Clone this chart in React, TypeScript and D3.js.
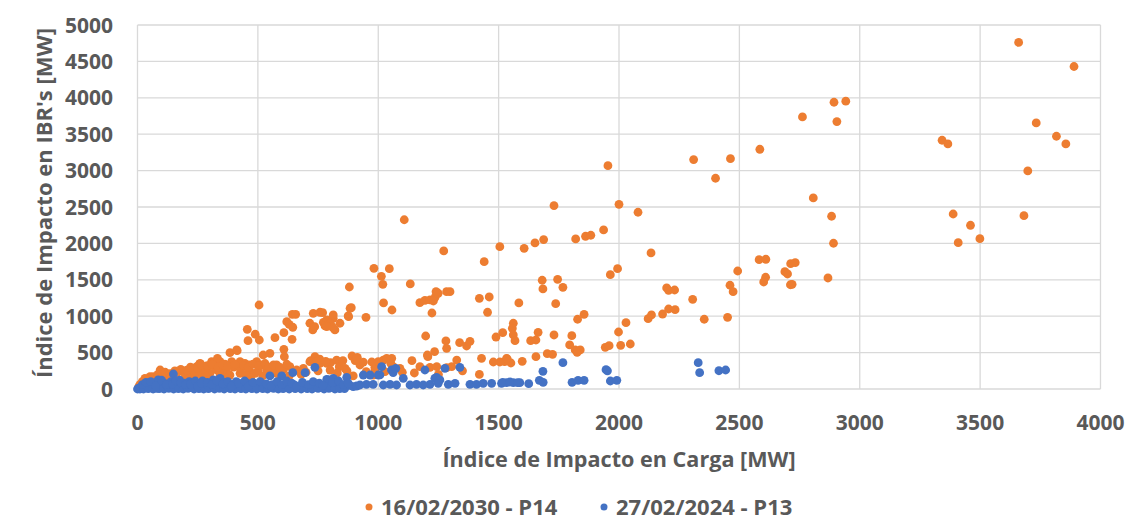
import React, { useRef, useEffect } from "react";
import * as d3 from "d3";

const xTicks = [0, 500, 1000, 1500, 2000, 2500, 3000, 3500, 4000];
const yTicks = [0, 500, 1000, 1500, 2000, 2500, 3000, 3500, 4000, 4500, 5000];

const seriesNames = ["16/02/2030 - P14", "27/02/2024 - P13"];

// [carga MW, IBR MW]
const p14 = [
  [3660, 4760], [3890, 4430], [3733, 3655], [3817, 3472], [3856, 3366], [3342, 3417], [3366, 3366],
  [3698, 2995], [3388, 2404], [3682, 2381], [3460, 2249], [3499, 2065], [3409, 2010],
  [2893, 3939], [2942, 3953], [2762, 3737], [2905, 3673], [2585, 3293], [2463, 3164], [2401, 2895],
  [2807, 2624], [2883, 2373], [2891, 2002], [2582, 1777], [2610, 1782], [2493, 1621], [2713, 1722],
  [2732, 1735], [2689, 1612], [2700, 1580], [2609, 1535], [2601, 1470], [2719, 1438], [2712, 1432],
  [2461, 1425], [2474, 1337], [2868, 1525], [2354, 958], [2451, 985],
  [1954, 3068], [2310, 3151], [1440, 1749], [1420, 1246], [1461, 1264], [1454, 1054], [1298, 1337],
  [1338, 636], [1367, 591], [1381, 655], [1489, 714], [1517, 774],
  [1730, 2519], [2000, 2537], [2079, 2428], [1505, 1955], [1606, 1933], [1651, 2006], [1687, 2052],
  [1820, 2061], [1861, 2098], [1883, 2112], [1936, 2185], [2133, 1869], [1964, 1571], [1994, 1653],
  [1681, 1494], [1745, 1507], [1684, 1374], [1767, 1397], [1584, 1182], [1737, 1172], [2198, 1388],
  [2206, 1356], [2231, 1360], [2306, 1232], [2121, 966], [2135, 1017], [2181, 1030], [2206, 1099],
  [2233, 1090], [1828, 958], [1855, 1026], [1561, 903], [1557, 834], [1561, 742], [1568, 664],
  [1664, 779], [1633, 664], [1655, 673], [1730, 742], [1804, 732], [1795, 605], [1818, 536],
  [1839, 536], [1826, 504], [1943, 573], [1959, 595], [1998, 783], [2029, 911], [2007, 600],
  [2047, 618], [1525, 375], [1536, 412], [1551, 357], [1598, 380], [1655, 444], [1702, 485], [1724, 476],
  [1108, 2325], [1272, 1896], [982, 1658], [1046, 1653], [1013, 1548], [1019, 1438], [880, 1401],
  [1133, 1443], [1022, 1182], [1057, 1085], [1173, 1186], [1194, 1218], [1215, 1223], [1236, 1260],
  [1249, 1315], [1240, 1337], [1284, 1337], [1229, 1209], [1223, 1044], [758, 1054], [888, 1117],
  [877, 993], [949, 985], [772, 916], [786, 948], [813, 971], [800, 903], [820, 811], [841, 903],
  [779, 866], [811, 848], [1197, 728], [1204, 467], [1206, 444], [1234, 513], [1281, 660], [1284, 559],
  [1429, 422], [1478, 371], [1505, 371], [1533, 422], [1140, 389], [1173, 306], [1215, 298],
  [1243, 306], [1284, 293], [1305, 306], [1326, 398],
  [505, 1154], [643, 1026], [657, 1026], [620, 925], [630, 889], [645, 848], [608, 774], [642, 683],
  [769, 1048], [716, 903], [728, 811], [786, 856], [456, 820], [489, 752], [506, 673], [459, 664],
  [571, 705], [608, 545], [610, 444], [522, 467], [550, 490], [384, 499], [414, 526], [875, 1003],
  [883, 1109], [730, 1040], [813, 1017], [736, 856],
  [737, 444], [758, 353], [786, 353], [802, 361], [827, 398], [838, 306], [862, 284], [913, 435],
  [924, 330], [973, 371], [986, 298], [1021, 398], [1056, 422], [1062, 306], [1090, 284], [979, 192],
  [896, 179], [720, 390], [757, 410], [782, 380], [853, 390], [891, 453], [904, 390], [938, 370],
  [1035, 422], [1000, 375], [1052, 353], [910, 422], [1028, 238], [986, 261],
  [31, 146], [52, 169], [94, 261], [121, 192], [163, 215], [190, 238], [225, 238], [246, 307],
  [260, 352], [287, 284], [308, 375], [332, 421], [343, 375], [363, 343], [412, 536], [391, 375],
  [426, 375], [446, 352], [467, 330], [495, 375], [516, 330], [536, 261], [467, 238], [426, 215],
  [370, 238], [329, 261], [301, 215], [280, 192], [578, 330], [606, 261], [633, 307], [661, 261],
  [689, 284], [716, 375], [744, 375], [578, 215], [488, 215], [384, 192], [343, 192], [257, 343],
  [284, 293], [232, 261], [260, 247], [191, 238], [100, 180], [149, 180],
  [10, 60], [20, 100], [40, 80], [60, 120], [75, 150], [110, 140], [130, 100], [140, 160], [170, 130],
  [200, 180], [215, 150], [240, 200], [270, 160], [300, 120], [320, 300], [350, 290], [360, 160],
  [400, 300], [430, 280], [450, 200], [470, 150], [500, 250], [520, 180], [560, 240], [590, 200],
  [630, 180], [680, 200], [700, 230], [750, 250], [800, 260], [830, 220], [870, 250], [950, 240],
  [1100, 230], [1150, 220], [1250, 200], [1350, 250], [1420, 200],
  [5, 30], [15, 50], [30, 110], [45, 130], [65, 170], [85, 200], [95, 140], [115, 230], [135, 210],
  [155, 250], [180, 270], [205, 260], [220, 300], [250, 280], [265, 330], [290, 320], [310, 340],
  [335, 300], [355, 330], [375, 310], [405, 340], [440, 320], [460, 300], [480, 340], [505, 320],
  [530, 350], [545, 300], [565, 330], [590, 300], [620, 340],
];

const p13 = [
  [0, 0], [5, 10], [12, 20], [20, 5], [30, 40], [40, 15], [50, 60], [60, 25], [70, 80], [80, 10],
  [86, 124], [95, 50], [105, 90], [115, 30], [125, 70], [140, 100], [149, 206], [155, 40], [165, 60],
  [175, 120], [185, 20], [195, 80], [205, 45], [215, 100], [230, 30], [245, 70], [260, 15], [270, 110],
  [285, 50], [300, 20], [315, 124], [325, 80], [343, 147], [350, 40], [365, 90], [380, 25], [395, 60],
  [410, 100], [425, 20], [440, 50], [455, 80], [470, 15], [485, 40], [500, 70], [515, 30], [530, 20],
  [550, 179], [560, 60], [575, 30], [599, 179], [610, 40], [625, 20], [645, 224], [650, 60], [670, 30],
  [696, 224], [700, 50], [715, 20], [737, 298], [745, 60], [760, 30], [786, 133], [792, 124], [800, 40],
  [813, 147], [831, 78], [845, 30], [862, 32], [869, 161], [880, 50], [896, 32], [910, 41], [924, 55],
  [938, 192], [951, 64], [966, 192], [979, 64], [1000, 192], [1007, 193], [1014, 306], [1021, 55],
  [1049, 64], [1055, 261], [1062, 225], [1073, 284], [1076, 55], [1104, 147], [1132, 55], [1159, 64],
  [1187, 55], [1194, 261], [1215, 64], [1235, 147], [1242, 161], [1256, 124], [1249, 78], [1277, 284],
  [1291, 64], [1319, 78], [1339, 298], [1381, 64], [1408, 64], [1436, 78], [1471, 78], [1512, 78],
  [1533, 87], [1561, 87], [1588, 87], [1517, 92], [1547, 96], [1579, 87], [1625, 73], [1669, 119],
  [1685, 92], [1684, 243], [1767, 361], [1805, 92], [1830, 119], [1855, 119], [1946, 265], [1952, 250],
  [1964, 110], [1991, 119], [2329, 361], [2335, 224], [2415, 251], [2443, 261],
  [10, 0], [25, 0], [45, 5], [65, 0], [90, 5], [110, 0], [130, 10], [150, 0], [170, 5], [190, 0],
  [210, 10], [235, 0], [255, 5], [275, 0], [295, 5], [320, 0], [340, 10], [360, 0], [385, 5], [405, 0],
  [430, 5], [450, 0], [475, 5], [495, 0], [520, 5], [540, 0], [565, 10], [585, 0], [605, 5], [630, 0],
  [655, 5], [680, 0], [705, 5], [725, 0], [750, 10], [775, 0], [795, 10], [820, 0], [840, 5], [860, 5],
  [20, 60], [35, 90], [55, 100], [75, 40], [100, 120], [120, 60], [145, 70], [160, 110], [180, 90],
  [200, 60], [220, 70], [240, 110], [250, 40], [265, 80], [290, 90], [310, 60], [330, 110], [355, 70],
  [375, 100], [390, 40], [420, 80], [445, 110], [460, 40], [480, 90], [510, 100], [535, 70], [555, 40],
  [580, 100], [600, 60], [620, 110], [640, 80], [660, 40], [685, 90], [710, 60], [730, 100], [755, 80],
  [770, 50], [810, 90], [835, 110], [855, 60], [875, 80],
];

const colors = ["#ED7D31", "#4472C4"];

const Chart = () => {
  const ref = useRef(null);

  useEffect(() => {
    const svg = d3.select(ref.current);
    svg.selectAll("*").remove();

    const width = 1140;
    const height = 524;
    const font = "'Open Sans', 'Noto Sans', sans-serif";
    const textColor = "#595959";

    svg.attr("width", width).attr("height", height);

    const x = d3.scaleLinear().domain([0, 4000]).range([137.5, 1100.5]);
    const y = d3.scaleLinear().domain([0, 5000]).range([389, 25]);

    // grid
    const grid = svg.append("g").attr("stroke", "#d9d9d9").attr("stroke-width", 1.3);
    grid
      .selectAll("line.h")
      .data(yTicks)
      .join("line")
      .attr("x1", x(0))
      .attr("x2", x(4000))
      .attr("y1", (d) => y(d))
      .attr("y2", (d) => y(d));
    grid
      .selectAll("line.v")
      .data(xTicks)
      .join("line")
      .attr("class", "v")
      .attr("x1", (d) => x(d))
      .attr("x2", (d) => x(d))
      .attr("y1", y(0))
      .attr("y2", y(5000));

    // tick labels
    svg
      .append("g")
      .selectAll("text")
      .data(yTicks)
      .join("text")
      .attr("x", 113)
      .attr("y", (d) => y(d) + 7.5)
      .attr("text-anchor", "end")
      .attr("font-family", font)
      .attr("font-weight", "bold")
      .attr("font-size", "21px")
      .attr("fill", textColor)
      .text((d) => d);

    svg
      .append("g")
      .selectAll("text")
      .data(xTicks)
      .join("text")
      .attr("x", (d) => x(d))
      .attr("y", 430)
      .attr("text-anchor", "middle")
      .attr("font-family", font)
      .attr("font-weight", "bold")
      .attr("font-size", "21px")
      .attr("fill", textColor)
      .text((d) => d);

    // axis titles
    svg
      .append("text")
      .attr("x", 619)
      .attr("y", 467)
      .attr("text-anchor", "middle")
      .attr("font-family", font)
      .attr("font-weight", "bold")
      .attr("font-size", "21.6px")
      .attr("fill", textColor)
      .text("Índice de Impacto en Carga [MW]");

    svg
      .append("text")
      .attr("transform", "translate(52,203) rotate(-90)")
      .attr("text-anchor", "middle")
      .attr("font-family", font)
      .attr("font-weight", "bold")
      .attr("font-size", "22px")
      .attr("fill", textColor)
      .text("Índice de Impacto en IBR's [MW]");

    // points
    [p14, p13].forEach((data, i) => {
      svg
        .append("g")
        .selectAll("circle")
        .data(data)
        .join("circle")
        .attr("cx", (d) => x(d[0]))
        .attr("cy", (d) => y(d[1]))
        .attr("r", 4.4)
        .attr("fill", colors[i]);
    });

    // legend
    const legendX = [369, 604];
    seriesNames.forEach((name, i) => {
      const g = svg.append("g").attr("transform", `translate(${legendX[i]},507)`);
      g.append("circle").attr("cx", 0).attr("cy", 0).attr("r", 3.5).attr("fill", colors[i]);
      g.append("text")
        .attr("x", 12)
        .attr("y", 8)
        .attr("font-family", font)
        .attr("font-weight", "bold")
        .attr("font-size", "22px")
        .attr("fill", textColor)
        .text(name);
    });
  }, []);

  return <svg ref={ref} style={{ position: "absolute", left: 0, top: 0, background: "#fff" }}></svg>;
};

export default function App() {
  return <Chart />;
}
